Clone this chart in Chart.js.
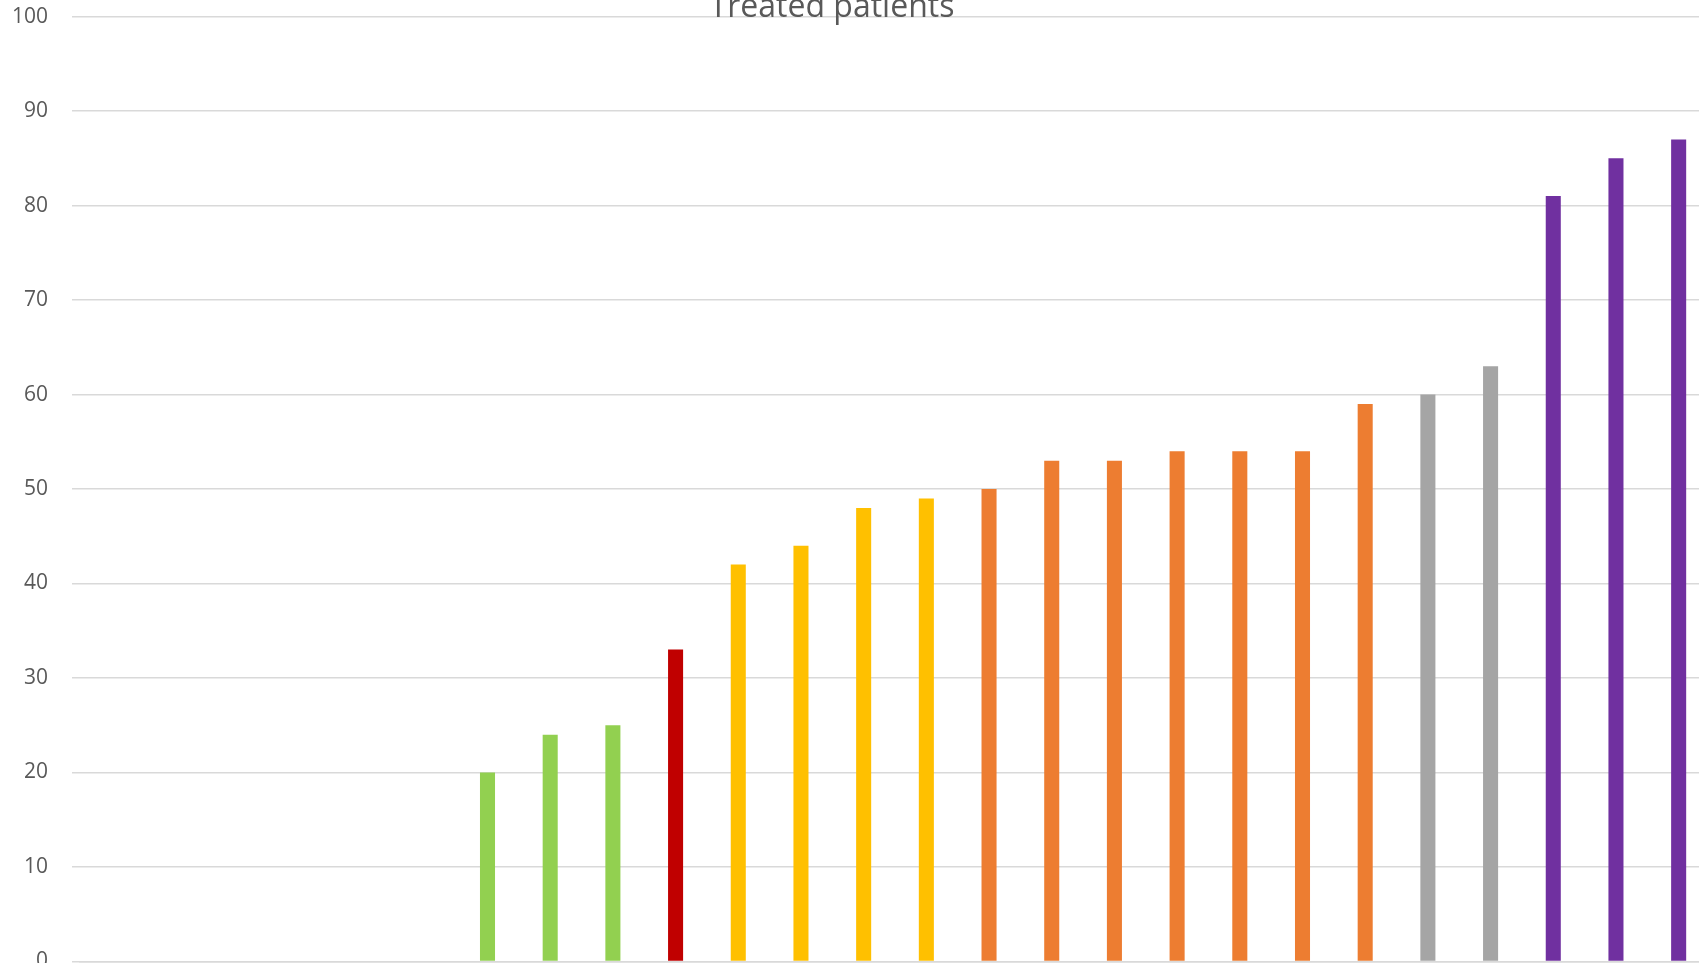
<!DOCTYPE html>
<html>
<head>
<meta charset="utf-8">
<title>Treated patients</title>
<script src="https://cdn.jsdelivr.net/npm/chart.js@4"></script>
<style>
  html, body { margin: 0; padding: 0; background: #fff; overflow: hidden; }
  body { width: 1699px; height: 963px; position: relative; }
  #wrap { position: absolute; left: -46px; top: -20px; width: 1756px; height: 1018px; }
</style>
</head>
<body>
<div id="wrap"><canvas id="chart" width="1756" height="1018"></canvas></div>
<script>
// ===== DATA =====
const categories = ['', '', '', '', '', '', '', '', '', '', '', '', '', '', '', '', '', '', '', '', '', '', '', '', '', ''];
const treated = [null, null, null, null, null, null,
  20, 24, 25, 33, 42, 44, 48, 49, 50, 53, 53, 54, 54, 54, 59, 60, 63, 81, 85, 87];
const yTicks = [0, 10, 20, 30, 40, 50, 60, 70, 80, 90, 100];

const GREEN = '#92D050', RED = '#C00000', YELLOW = '#FFC000',
      ORANGE = '#ED7D31', GREY = '#A5A5A5', PURPLE = '#7030A0';
const barColors = [GREEN, GREEN, GREEN, GREEN, GREEN, GREEN,
  GREEN, GREEN, GREEN, RED, YELLOW, YELLOW, YELLOW, YELLOW,
  ORANGE, ORANGE, ORANGE, ORANGE, ORANGE, ORANGE, ORANGE,
  GREY, GREY, PURPLE, PURPLE, PURPLE];

const textColor = '#595959';
const gridColor = '#d9d9d9';

new Chart(document.getElementById('chart'), {
  type: 'bar',
  data: {
    labels: categories,
    datasets: [{
      label: 'Treated patients',
      data: treated,
      backgroundColor: barColors,
      borderWidth: 0,
      barPercentage: 0.24,
      categoryPercentage: 1
    }]
  },
  options: {
    responsive: false,
    animation: false,
    devicePixelRatio: 1,
    layout: { padding: { top: 0, left: 0, right: 0, bottom: 20 } },
    plugins: {
      legend: { display: false },
      tooltip: { enabled: false },
      title: {
        display: true,
        text: 'Treated patients',
        color: textColor,
        padding: { top: 0, bottom: 0 },
        font: { family: '"Open Sans", sans-serif', size: 32, weight: 'normal', lineHeight: '18px' }
      }
    },
    scales: {
      x: {
        grid: { display: false, drawTicks: false },
        border: { display: true, color: gridColor, width: 1.5 },
        ticks: { display: false }
      },
      y: {
        min: 0,
        max: 100,
        afterBuildTicks: s => { s.ticks = yTicks.map(v => ({ value: v })); },
        afterFit: s => { s.width = 126; },
        grid: { color: gridColor, lineWidth: 1.5, drawTicks: true, tickLength: 8 },
        border: { display: false },
        ticks: {
          color: textColor,
          padding: 24,
          font: { family: '"Open Sans", sans-serif', size: 21 }
        }
      }
    }
  }
});
</script>
</body>
</html>
